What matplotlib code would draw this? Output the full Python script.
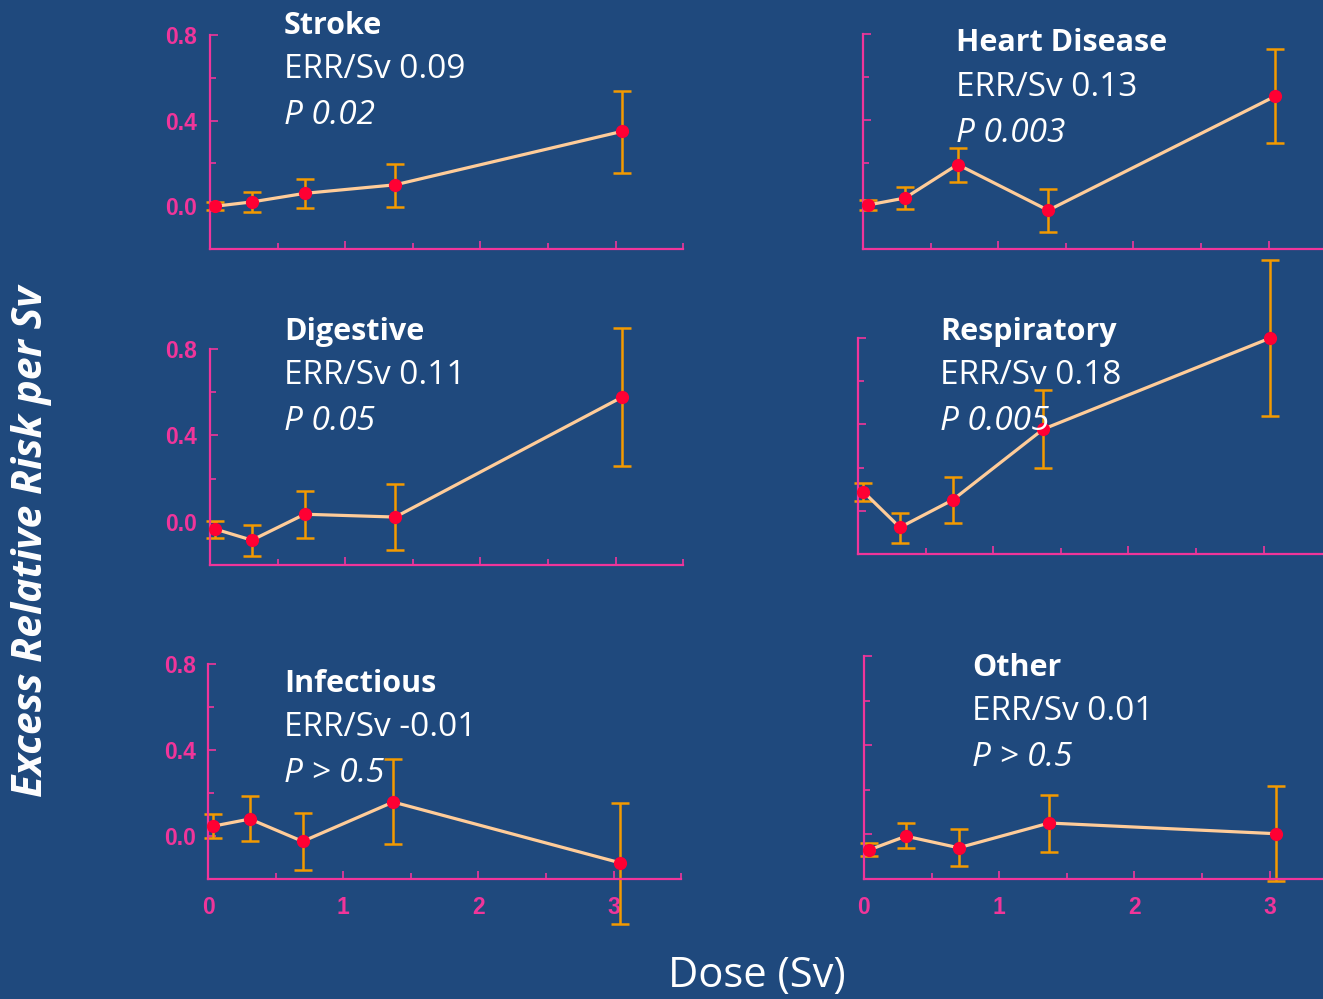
import numpy as np
import matplotlib
matplotlib.use("Agg")
import matplotlib.pyplot as plt
from matplotlib.ticker import MultipleLocator, FixedFormatter

# Dose groups (Sv)
dose = [0.04, 0.31, 0.70, 1.37, 3.05]

# ERR estimates and CI bounds per cause of death
stroke_err = [0.00, 0.02, 0.06, 0.10, 0.35]
stroke_hi = [0.02, 0.065, 0.128, 0.195, 0.537]
stroke_lo = [-0.018, -0.028, -0.009, -0.003, 0.155]

heart_err = [0.005, 0.037, 0.193, -0.02, 0.511]
heart_hi = [0.03, 0.087, 0.27, 0.08, 0.729]
heart_lo = [-0.02, -0.014, 0.113, -0.12, 0.291]

digestive_err = [-0.034, -0.085, 0.035, 0.022, 0.578]
digestive_hi = [0.006, -0.015, 0.143, 0.175, 0.897]
digestive_lo = [-0.074, -0.157, -0.075, -0.132, 0.258]

resp_err = [0.088, -0.077, 0.05, 0.378, 0.80]
resp_hi = [0.13, -0.009, 0.158, 0.557, 1.161]
resp_lo = [0.046, -0.149, -0.057, 0.198, 0.441]

infect_err = [0.046, 0.079, -0.025, 0.158, -0.125]
infect_hi = [0.102, 0.184, 0.105, 0.356, 0.153]
infect_lo = [-0.011, -0.025, -0.156, -0.039, -0.407]

other_err = [-0.069, -0.008, -0.06, 0.051, 0.003]
other_hi = [-0.039, 0.051, 0.022, 0.178, 0.219]
other_lo = [-0.099, -0.063, -0.142, -0.078, -0.211]

titles = ["Stroke", "Heart Disease", "Digestive", "Respiratory", "Infectious", "Other"]
slopes = ["ERR/Sv 0.09", "ERR/Sv 0.13", "ERR/Sv 0.11", "ERR/Sv 0.18", "ERR/Sv -0.01", "ERR/Sv 0.01"]
pvals = ["P 0.02", "P 0.003", "P 0.05", "P 0.005", "P > 0.5", "P > 0.5"]

xticks = [0, 1, 2, 3]
xtick_labels = ["0", "1", "2", "3"]
yticks = [0.0, 0.4, 0.8]
ytick_labels = ["0.0", "0.4", "0.8"]

BG = "#1f497d"
PINK = "#f0359a"
ORANGE = "#f39a00"
PEACH = "#ffcc99"
RED = "#ff0033"

# tick labels are bold; other text sets its own weight
plt.rcParams["font.weight"] = "bold"

W, H = 1323, 999
fig = plt.figure(figsize=(W / 100, H / 100), dpi=100)
fig.patch.set_facecolor(BG)

# axes boxes in pixels: left, top(0.8), bottom(-0.2)
boxes = [(210, 35, 249), (863, 34, 249),
         (210, 349, 565), (858, 338, 554),
         (208, 664, 879), (864, 656, 879)]
# text block anchor (left x, y of title centre) in pixels
text_pos = [(284, 23), (956, 40), (284, 329), (940, 329), (284, 681), (972, 665)]

panels = [(stroke_err, stroke_lo, stroke_hi), (heart_err, heart_lo, heart_hi),
          (digestive_err, digestive_lo, digestive_hi), (resp_err, resp_lo, resp_hi),
          (infect_err, infect_lo, infect_hi), (other_err, other_lo, other_hi)]

for i, ((err, lo, hi), (left, top, bottom)) in enumerate(zip(panels, boxes)):
    width = 3.5 * 135.2
    ax = fig.add_axes([left / W, 1 - bottom / H, width / W, (bottom - top) / H])
    ax.set_facecolor("none")
    err = np.array(err)
    yerr = [err - np.array(lo), np.array(hi) - err]
    ax.errorbar(dose, err, yerr=yerr, fmt="none", ecolor=ORANGE, elinewidth=1.8,
                capsize=6.5, capthick=1.8, clip_on=False, zorder=2)
    ax.plot(dose, err, color=PEACH, lw=2.3, zorder=3, clip_on=False)
    ax.plot(dose, err, "o", color=RED, ms=8.5, zorder=4, clip_on=False)

    for s in ["top", "right"]:
        ax.spines[s].set_visible(False)
    for s in ["left", "bottom"]:
        ax.spines[s].set_color(PINK)
        ax.spines[s].set_linewidth(1.6)

    ax.set_xticks(xticks)
    ax.set_yticks(yticks)
    ax.xaxis.set_major_formatter(FixedFormatter(xtick_labels))
    ax.yaxis.set_major_formatter(FixedFormatter(ytick_labels))
    ax.xaxis.set_minor_locator(MultipleLocator(0.5))
    ax.yaxis.set_minor_locator(MultipleLocator(0.2))
    ax.set_xlim(0, 3.5)
    ax.set_ylim(-0.2, 0.8)
    ax.tick_params(which="both", direction="in", color=PINK, width=1.2,
                   labelcolor=PINK, labelsize=16.5, labelfontfamily="Liberation Sans")
    ax.tick_params(which="major", length=6)
    ax.tick_params(which="minor", length=4)
    ax.tick_params(axis="y", pad=9, labelleft=(i % 2 == 0))
    ax.tick_params(axis="x", pad=12, labelbottom=(i >= 4))

    tx, ty = text_pos[i]
    fig.text(tx / W, 1 - (ty + 3) / H, titles[i], color="white", fontsize=22,
             fontweight="bold", family="Open Sans", va="center", ha="left")
    fig.text(tx / W, 1 - (ty + 47) / H, slopes[i], color="white", fontsize=24,
             fontweight="normal", family="Open Sans", va="center", ha="left")
    fig.text(tx / W, 1 - (ty + 93) / H, pvals[i], color="white", fontsize=24,
             fontweight="normal", style="italic", family="Open Sans",
             va="center", ha="left")

fig.text(32 / W, 1 - 541 / H, "Excess Relative Risk per Sv", color="white",
         fontsize=29.5, fontweight="bold", style="italic", family="Open Sans",
         rotation=90, va="center", ha="center")
fig.text(757 / W, 1 - 976 / H, "Dose (Sv)", color="white", fontsize=30,
         fontweight="normal", family="Open Sans", va="center", ha="center")

fig.savefig("out.png", dpi=100, facecolor=BG)
